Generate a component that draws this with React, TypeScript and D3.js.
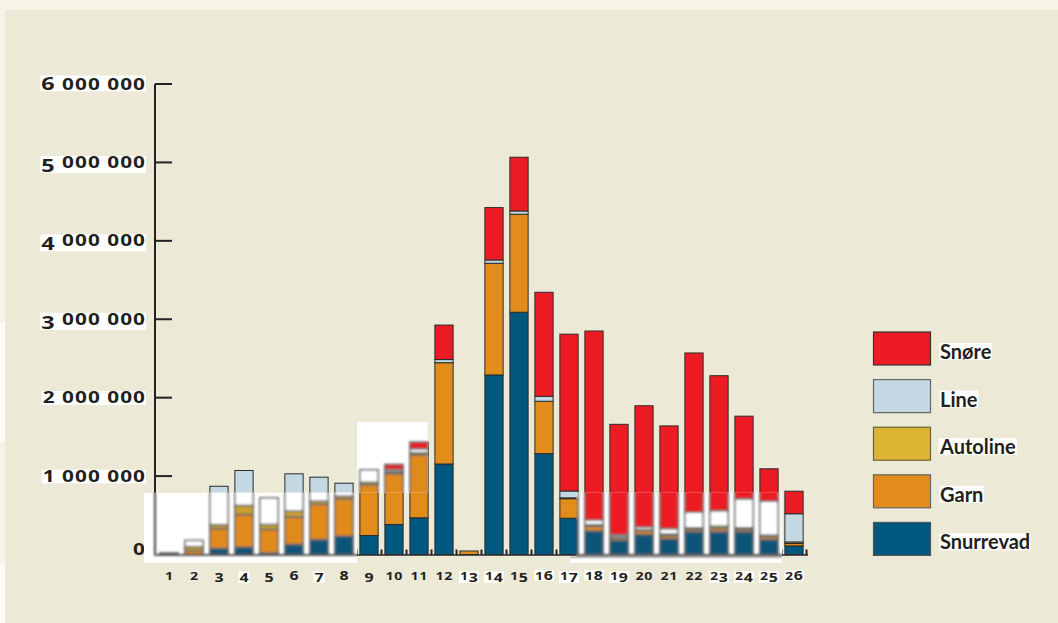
import React, { useLayoutEffect, useRef } from 'react';
import * as d3 from 'd3';

const categories = ['1','2','3','4','5','6','7','8','9','10','11','12','13','14','15','16','17','18','19','20','21','22','23','24','25','26'];
const snurrevad = [20000,0,77000,93000,20000,128000,190000,233000,242000,383000,468000,1154000,0,2290000,3089000,1286000,462000,300000,180000,255000,200000,290000,290000,290000,190000,110000];
const garn = [0,50000,253000,417000,300000,352000,450000,477000,648000,650000,800000,1292000,45000,1424000,1250000,668000,250000,60000,30000,50000,40000,30000,40000,30000,40000,30000];
const autoline = [0,50000,50000,115000,63000,73000,40000,34000,30000,20000,30000,0,0,0,0,0,10000,20000,10000,10000,20000,20000,30000,20000,15000,20000];
const line = [0,80000,490000,446000,340000,476000,306000,165000,160000,30000,50000,40000,0,42000,42000,64000,88000,60000,30000,35000,70000,200000,200000,370000,435000,360000];
const snore = [0,0,0,0,0,0,0,0,0,65000,85000,440000,0,668000,685000,1326000,2000000,2410000,1410000,1547000,1310000,2030000,1720000,1054000,413000,287000];

const seriesKeys = ['Snurrevad','Garn','Autoline','Line','Snøre'];
const seriesColors: Record<string,string> = {Snurrevad:'#00587f', Garn:'#e28c1b', Autoline:'#dcb432', Line:'#c3d8e3', 'Snøre':'#ed1c24'};
const artColors: Record<string,string> = {Snurrevad:'#0b5478', Garn:'#e08a1e', Autoline:'#c9a12c', Line:'#ffffff', 'Snøre':'#ed1c24'};
const legendOrder = ['Snøre','Line','Autoline','Garn','Snurrevad'];
const legendStroke: Record<string,string> = {'Snøre':'#333','Line':'#666','Autoline':'#6f6040','Garn':'#666','Snurrevad':'#555'};
const yTicks = [0,1000000,2000000,3000000,4000000,5000000,6000000];
const yTickLabels = ['0','1 000 000','2 000 000','3 000 000','4 000 000','5 000 000','6 000 000'];
const boxedXLabels = ['4','7','13','14','16','17','18','19','23','24','25','26'];

const W = 1058, H = 623;
const numFont = "'Open Sans', sans-serif";
const STRETCH = 1.3;      // horizontal stretch that rounds the small zeros like old-style figures
const ADV = 0.572;        // digit advance in em

type Glyph = { ch: string; x: number; fs: number; dy: number };
function osLayout(str: string, s: number) {
  let pos = 0;
  let prevDigit = false;
  let hasAsc = false, hasDesc = false;
  const items: Glyph[] = [];
  for (const ch of str) {
    if (ch === ' ') { items.push({ ch, x: pos, fs: 12 * s, dy: 0 }); pos += 7.5 * s; prevDigit = false; continue; }
    if (prevDigit) pos += 1.0 * s;
    let fs = 16 * s, dy = 0;
    if ('34579'.includes(ch)) { fs = 18 * s; dy = 3.8 * s; hasDesc = true; }
    else if ('68'.includes(ch)) { fs = 18 * s; hasAsc = true; }
    items.push({ ch, x: pos, fs, dy });
    pos += ADV * fs * STRETCH;
    prevDigit = true;
  }
  return { items, width: pos, top: (hasAsc ? 14 : 12) * s, bottom: (hasDesc ? 5 : 1.8) * s };
}

function OsText({ label, x, y, s, anchor, box }: { label: string; x: number; y: number; s: number; anchor: 'end' | 'middle'; box: boolean }) {
  const L = osLayout(label, s);
  const x0 = anchor === 'end' ? x - L.width : x - L.width / 2;
  return (
    <g>
      {box && <rect x={x0 - 1} y={y - L.top} width={L.width + 2} height={L.top + L.bottom} fill="#ffffff" />}
      <text transform={`translate(${x0},${y}) scale(${STRETCH},1)`} fontFamily={numFont} fontWeight={700}
        fill="#231f20">
        {L.items.map((g, i) => (
          <tspan key={i} x={g.x / STRETCH} y={g.dy} fontSize={g.fs}>{g.ch}</tspan>
        ))}
      </text>
    </g>
  );
}

export default function App() {
  const svgRef = useRef<SVGSVGElement>(null);
  const rows = categories.map((c, i) => ({
    cat: c, Snurrevad: snurrevad[i], Garn: garn[i], Autoline: autoline[i], Line: line[i], 'Snøre': snore[i],
  }));
  const stacked = d3.stack<any>().keys(seriesKeys)(rows as any);
  const x = d3.scaleBand<string>().domain(categories).range([156.5, 806.5]).paddingInner(0.27).paddingOuter(0.135);
  const y = d3.scaleLinear().domain([0, 6000000]).range([554.5, 84]);
  const step = x.step();
  const bw = x.bandwidth();
  const y0 = y(0);

  useLayoutEffect(() => {
    const svg = d3.select(svgRef.current);
    svg.selectAll('rect.tbox').remove();
    svg.selectAll<SVGTextElement, unknown>('text[data-box]').each(function () {
      const bb = this.getBBox();
      const [up, down] = (this.getAttribute('data-box') || '16,2').split(',').map(Number);
      const by = Number(this.getAttribute('y'));
      d3.select(this.parentNode as Element).insert('rect', () => this)
        .attr('class', 'tbox')
        .attr('x', bb.x - 0.5).attr('width', bb.width + 1)
        .attr('y', by - up).attr('height', up + down)
        .attr('fill', '#ffffff');
    });
  });

  const bars = (colors: Record<string,string>, stroke: string, sw: number) =>
    stacked.map(layer => (
      <g key={layer.key}>
        {layer.map((d, i) => {
          const h = y(d[0]) - y(d[1]);
          if (h <= 0.01) return null;
          return <rect key={i} x={x(categories[i])} y={y(d[1])} width={bw} height={h}
            fill={colors[layer.key]} stroke={stroke} strokeWidth={sw} />;
        })}
      </g>
    ));

  const boundaries = d3.range(1, categories.length + 1).map(k => 156.5 + k * step);
  const legendY = d3.scaleBand<string>().domain(legendOrder).range([332, 555.4]).paddingInner(0.307).paddingOuter(0);

  return (
    <svg ref={svgRef} width={W} height={H} style={{ position: 'absolute', left: 0, top: 0 }}>
      <defs>
        <clipPath id="art">
          <rect x={144} y={492.7} width={213} height={70.3} />
          <rect x={357} y={422} width={70.5} height={70.7} />
          <rect x={576} y={492.7} width={206} height={70.3} />
          <rect x={570} y={556.5} width={10} height={6.5} />
        </clipPath>
        <filter id="blur" x="-5%" y="-5%" width="110%" height="110%">
          <feGaussianBlur stdDeviation="0.8" />
        </filter>
      </defs>
      <rect x={0} y={0} width={W} height={H} fill="#ece9d6" />
      <rect x={0} y={0} width={W} height={10} fill="#f7f4e7" />
      <rect x={0} y={0} width={5} height={H} fill="#f7f4e7" />
      <rect x={0} y={322} width={5} height={120} fill="#fcfbf4" />
      <rect x={0} y={565} width={5} height={58} fill="#fcfbf4" />

      {/* y axis */}
      <line x1={155} x2={155} y1={y(6000000)} y2={y0 + 1} stroke="#222" strokeWidth={2} />
      {yTicks.map((t, i) => (
        <g key={t}>
          {t > 0 && <line x1={155} x2={172} y1={y(t)} y2={y(t)} stroke="#222" strokeWidth={2} />}
          {t > 0
            ? <OsText label={yTickLabels[i]} x={145} y={y(t) + 5.5} s={1} anchor="end" box={true} />
            : <OsText label={yTickLabels[i]} x={145} y={y(t)} s={1.0} anchor="end" box={false} />}
        </g>
      ))}

      {/* baseline and small ticks */}
      <line x1={155} x2={808} y1={y0 + 0.5} y2={y0 + 0.5} stroke="#555" strokeWidth={2} />
      {boundaries.map((bx, i) => (
        <line key={i} x1={bx} x2={bx} y1={y0 - 5} y2={y0 + 0.5} stroke="#222" strokeWidth={2} />
      ))}

      {/* bars */}
      {bars(seriesColors, '#2b2b2b', 1)}

      {/* washed-out regions of the original scan */}
      <g clipPath="url(#art)">
        <rect x={0} y={0} width={W} height={H} fill="#ffffff" />
        <g filter="url(#blur)">
          {bars(artColors, '#6a6a6a', 1.6)}
          <line x1={155} x2={155} y1={400} y2={y0 + 1} stroke="#444" strokeWidth={2} />
          <line x1={155} x2={808} y1={y0 + 0.5} y2={y0 + 0.5} stroke="#555" strokeWidth={2} />
          <line x1={570} x2={782} y1={y0 + 2} y2={y0 + 2} stroke="#8a8a8a" strokeWidth={2} />
        </g>
      </g>

      {/* x labels */}
      {categories.map(c => (
        <OsText key={c} label={c} x={(x(c) as number) + bw / 2} y={579.5} s={0.68} anchor="middle"
          box={boxedXLabels.includes(c)} />
      ))}

      {/* legend */}
      {legendOrder.map(k => {
        const ly = legendY(k) as number;
        return (
          <g key={k}>
            <rect x={873.5} y={ly} width={57} height={33} fill={seriesColors[k]} stroke={legendStroke[k]} strokeWidth={1.2} />
            <g>
              <text data-box="16,1" x={940} y={ly + 27} fontFamily="Lato, sans-serif" fontWeight={700} fontSize={20} fill="#231f20">{k}</text>
            </g>
          </g>
        );
      })}
    </svg>
  );
}
